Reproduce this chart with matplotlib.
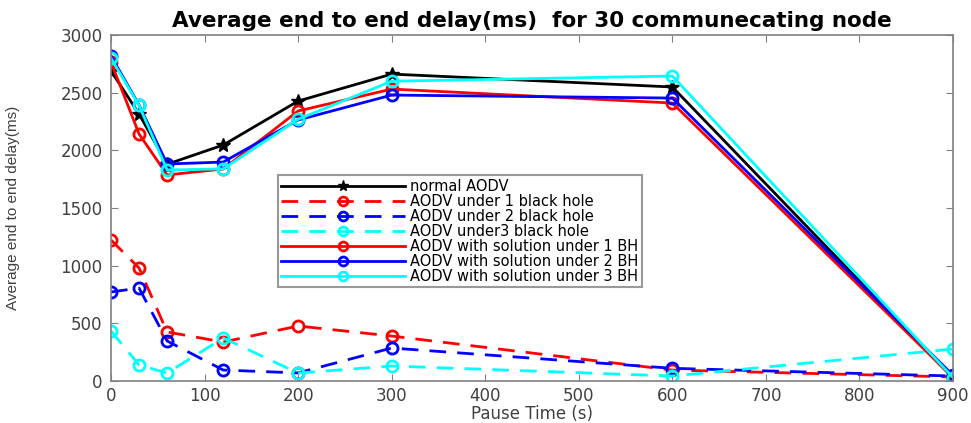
import matplotlib
matplotlib.use("Agg")
import matplotlib.pyplot as plt

pause_time = [0, 30, 60, 120, 200, 300, 600, 900]
normal_aodv = [2690, 2316, 1880, 2047, 2428, 2662, 2550, 25]
bh1 = [1223, 980, 425, 338, 477, 390, 95, 35]
bh2 = [772, 806, 347, 95, 70, 286, 110, 43]
bh3 = [434, 139, 69, 373, 69, 130, 43, 277]
sol1 = [2767, 2142, 1787, 1839, 2342, 2532, 2411, 30]
sol2 = [2819, 2394, 1882, 1899, 2264, 2480, 2454, 50]
sol3 = [2800, 2390, 1830, 1840, 2270, 2600, 2645, 30]

labels = ["normal AODV", "AODV under 1 black hole", "AODV under 2 black hole",
          "AODV under3 black hole", "AODV with solution under 1 BH",
          "AODV with solution under 2 BH", "AODV with solution under 3 BH"]

plt.rcParams['font.family'] = ['DejaVu Sans']

fig = plt.figure(figsize=(9.71, 4.23), dpi=100)
ax = fig.add_axes([0.1143, 0.0993, 0.8672, 0.8177])

lw = 2
ms = 8
ax.plot(pause_time, normal_aodv, '-', color='black', marker='*', ms=10, lw=lw, label=labels[0])
ax.plot(pause_time, bh1, '--', color='red', marker='o', mfc='none', mew=2, ms=ms, lw=lw, dashes=(6, 4), label=labels[1])
ax.plot(pause_time, bh2, '--', color='blue', marker='o', mfc='none', mew=2, ms=ms, lw=lw, dashes=(6, 4), label=labels[2])
ax.plot(pause_time, bh3, '--', color='cyan', marker='o', mfc='none', mew=2, ms=ms, lw=lw, dashes=(6, 4), label=labels[3])
ax.plot(pause_time, sol1, '-', color='red', marker='o', mfc='none', mew=2, ms=ms, lw=lw, label=labels[4])
ax.plot(pause_time, sol2, '-', color='blue', marker='o', mfc='none', mew=2, ms=ms, lw=lw, label=labels[5])
ax.plot(pause_time, sol3, '-', color='cyan', marker='o', mfc='none', mew=2, ms=ms, lw=lw, label=labels[6])

ax.set_xlim(0, 900)
ax.set_ylim(0, 3000)
ax.set_xticks(range(0, 901, 100))
ax.set_yticks(range(0, 3001, 500))
for s in ax.spines.values():
    s.set_color('#808080')
    s.set_linewidth(1.2)
ax.tick_params(direction='in', top=True, right=True, colors='#808080', labelcolor='#404040',
               labelsize=12, length=5)
ax.tick_params(axis='y', pad=6)
ax.tick_params(axis='x', pad=4)
ax.set_title("Average end to end delay(ms)  for 30 communecating node", fontsize=15.5,
             fontweight='bold', pad=6)
ax.set_xlabel("Pause Time (s)", fontsize=12, color='#404040', labelpad=0)
ax.set_ylabel("Average end to end delay(ms)", fontsize=11, color='#404040',
              family='Liberation Sans')
ax.yaxis.set_label_coords(-0.108, 0.5)

leg = ax.legend(loc='upper left', bbox_to_anchor=(0.198, 0.595), fontsize=10.5,
                frameon=True, fancybox=False, edgecolor='#808080', handlelength=8.5,
                borderpad=0.25, labelspacing=0.0, handletextpad=0.3, borderaxespad=0,
                markerscale=0.8)
leg.get_frame().set_linewidth(1.5)

fig.savefig("out.png", dpi=100)
